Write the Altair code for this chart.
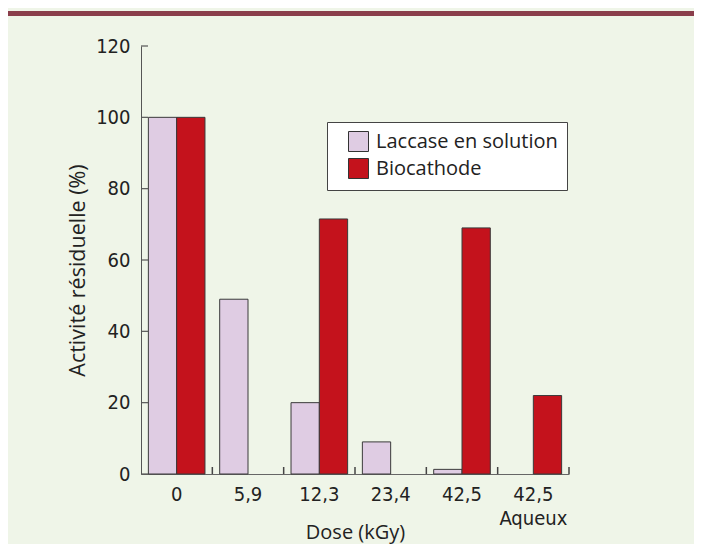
import altair as alt
import pandas as pd

doses = ["0", "5,9", "12,3", "23,4", "42,5", "42,5 Aqueux"]
series = ["Laccase en solution", "Biocathode"]
laccase = [100, 49, 20, 9, 1.3, 0]
biocathode = [100, 0, 71.5, 0, 69, 22]
y_ticks = [0, 20, 40, 60, 80, 100, 120]
colors = ["#dfcce3", "#c4121c"]

rows = []
for d, a, b in zip(doses, laccase, biocathode):
    rows.append({"dose": d, "serie": series[0], "v": a})
    rows.append({"dose": d, "serie": series[1], "v": b})
df = pd.DataFrame(rows)

W, H = 428, 428
yscale = alt.Scale(domain=[0, 120], nice=False)
xscale = alt.Scale(paddingInner=0, paddingOuter=0)

bars = alt.Chart(df).transform_filter("datum.v > 0").mark_bar(
    stroke="#3a3a3a", strokeWidth=1
).encode(
    x=alt.X("dose:N", sort=doses, scale=xscale, title="Dose (kGy)",
            axis=alt.Axis(labelAngle=0, ticks=False, domainColor="#666",
                          labelFont="DejaVu Sans Condensed", labelFontSize=20,
                          labelColor="#222", labelPadding=10, labelBaseline="top",
                          labelLineHeight=24,
                          labelExpr="split(datum.label, ' ')",
                          titleFont="Open Sans", titleFontSize=20,
                          titleFontWeight="normal", titleColor="#222",
                          titleY=58, titleBaseline="middle")),
    xOffset=alt.XOffset("serie:N", sort=series,
                        scale=alt.Scale(paddingOuter=0.26, paddingInner=0)),
    y=alt.Y("v:Q", scale=yscale, title="Activité résiduelle (%)",
            axis=alt.Axis(values=y_ticks, ticks=False, domainColor="#555",
                          grid=False, labelFont="DejaVu Sans Condensed",
                          labelFontSize=20, labelColor="#222", labelPadding=11,
                          titleFont="Open Sans", titleFontSize=21.5,
                          titleFontWeight="normal", titleColor="#222",
                          titleX=-63, titleY=224, titleBaseline="middle")),
    color=alt.Color("serie:N", sort=series,
                    scale=alt.Scale(domain=series, range=colors),
                    legend=alt.Legend(title=None, orient="none",
                                      legendX=186, legendY=76,
                                      fillColor="white", strokeColor="#444",
                                      padding=9, symbolOffset=12,
                                      symbolType="square", symbolSize=400,
                                      symbolStrokeColor="#333",
                                      symbolStrokeWidth=1,
                                      labelFont="Open Sans", labelFontSize=20,
                                      labelColor="#222", labelOffset=7,
                                      labelLimit=400, rowPadding=2)),
)

ytick_df = pd.DataFrame({"v": y_ticks})
yticks = alt.Chart(ytick_df).mark_rule(color="#555", strokeWidth=1.2).encode(
    y=alt.Y("v:Q", scale=yscale),
    x=alt.value(0), x2=alt.value(7),
)

xtick_df = pd.DataFrame({"dose": doses})
xticks = alt.Chart(xtick_df).mark_rule(color="#444", strokeWidth=1.5).encode(
    x=alt.X("dose:N", sort=doses, scale=xscale, bandPosition=1),
    y=alt.value(H), y2=alt.value(H - 7),
)

band = alt.Chart(pd.DataFrame({"a": [0]})).mark_rule(
    color="#8a3e4b", strokeWidth=5
).encode(x=alt.value(-140), x2=alt.value(560), y=alt.value(-32.5))

chart = alt.layer(bars, yticks, xticks, band).properties(
    width=W, height=H,
    autosize=alt.AutoSizeParams(type="none"),
    padding={"left": 133, "top": 38, "right": 125, "bottom": 70},
    background="#eff5e8",
).configure_view(stroke=None)

chart.save("out.html", embed_options={"renderer": "svg", "actions": False})
